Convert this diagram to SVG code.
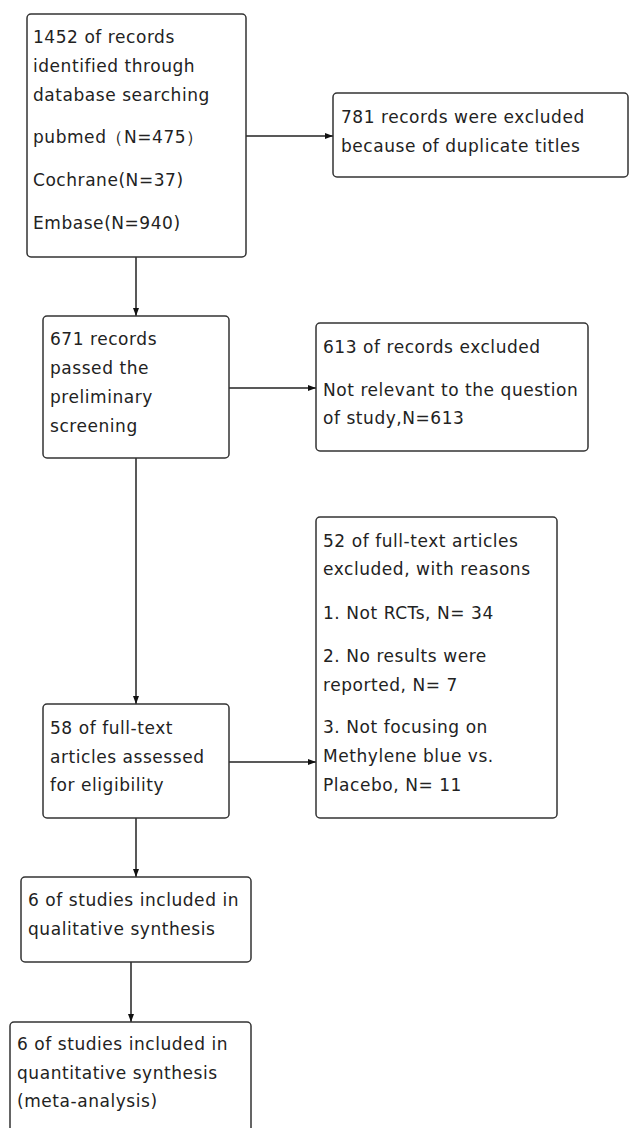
<svg xmlns="http://www.w3.org/2000/svg" width="629" height="1128" viewBox="0 0 629 1128">
<style>
.box{fill:#ffffff;stroke:#333333;stroke-width:1.5}
.t{font-family:"DejaVu Sans","Liberation Sans",sans-serif;font-size:17px;letter-spacing:0.55px;fill:#222222}
.c{stroke:#222222;stroke-width:1.5;fill:none;marker-end:url(#ah)}
</style>
<defs>
<marker id="ah" viewBox="0 0 8 6" refX="8" refY="3" markerWidth="8" markerHeight="6" markerUnits="userSpaceOnUse" orient="auto">
<path d="M0,0 L8,3 L0,6 Z" fill="#111111"/>
</marker>
</defs>
<rect width="629" height="1128" fill="#ffffff"/>
<g id="connectors">
<line class="c" x1="246" y1="136" x2="333" y2="136"/>
<line class="c" x1="136" y1="257" x2="136" y2="316"/>
<line class="c" x1="229" y1="388" x2="316" y2="388"/>
<line class="c" x1="136" y1="458" x2="136" y2="704"/>
<line class="c" x1="229" y1="762" x2="316" y2="762"/>
<line class="c" x1="136" y1="818" x2="136" y2="877"/>
<line class="c" x1="131" y1="962" x2="131" y2="1022"/>
</g>
<g id="node-identified">
<rect class="box" x="27" y="14" width="219" height="243" rx="4"/>
<text class="t" x="33" y="43">1452 of records</text>
<text class="t" x="33" y="72">identified through</text>
<text class="t" x="33" y="101">database searching</text>
<text class="t" x="33" y="143">pubmed（N=475）</text>
<text class="t" x="33" y="186">Cochrane(N=37)</text>
<text class="t" x="33" y="229">Embase(N=940)</text>
</g>
<g id="node-duplicates">
<rect class="box" x="333" y="93" width="295" height="84" rx="4"/>
<text class="t" x="341" y="123">781 records were excluded</text>
<text class="t" x="341" y="152">because of duplicate titles</text>
</g>
<g id="node-screening">
<rect class="box" x="43" y="316" width="186" height="142" rx="4"/>
<text class="t" x="50" y="345">671 records</text>
<text class="t" x="50" y="374">passed the</text>
<text class="t" x="50" y="403">preliminary</text>
<text class="t" x="50" y="432">screening</text>
</g>
<g id="node-excluded">
<rect class="box" x="316" y="323" width="272" height="128" rx="4"/>
<text class="t" x="323" y="353">613 of records excluded</text>
<text class="t" x="323" y="396">Not relevant to the question</text>
<text class="t" x="323" y="424">of study,N=613</text>
</g>
<g id="node-fulltext-excluded">
<rect class="box" x="316" y="517" width="241" height="301" rx="4"/>
<text class="t" x="323" y="547">52 of full-text articles</text>
<text class="t" x="323" y="575">excluded, with reasons</text>
<text class="t" x="323" y="619">1. Not RCTs, N= 34</text>
<text class="t" x="323" y="662">2. No results were</text>
<text class="t" x="323" y="691">reported, N= 7</text>
<text class="t" x="323" y="733">3. Not focusing on</text>
<text class="t" x="323" y="762">Methylene blue vs.</text>
<text class="t" x="323" y="791">Placebo, N= 11</text>
</g>
<g id="node-eligibility">
<rect class="box" x="43" y="704" width="186" height="114" rx="4"/>
<text class="t" x="50" y="734">58 of full-text</text>
<text class="t" x="50" y="763">articles assessed</text>
<text class="t" x="50" y="791">for eligibility</text>
</g>
<g id="node-qualitative">
<rect class="box" x="21" y="877" width="230" height="85" rx="4"/>
<text class="t" x="28" y="906">6 of studies included in</text>
<text class="t" x="28" y="935">qualitative synthesis</text>
</g>
<g id="node-quantitative">
<rect class="box" x="10" y="1022" width="241" height="120" rx="4"/>
<text class="t" x="17" y="1050">6 of studies included in</text>
<text class="t" x="17" y="1079">quantitative synthesis</text>
<text class="t" x="17" y="1107">(meta-analysis)</text>
</g>
</svg>
